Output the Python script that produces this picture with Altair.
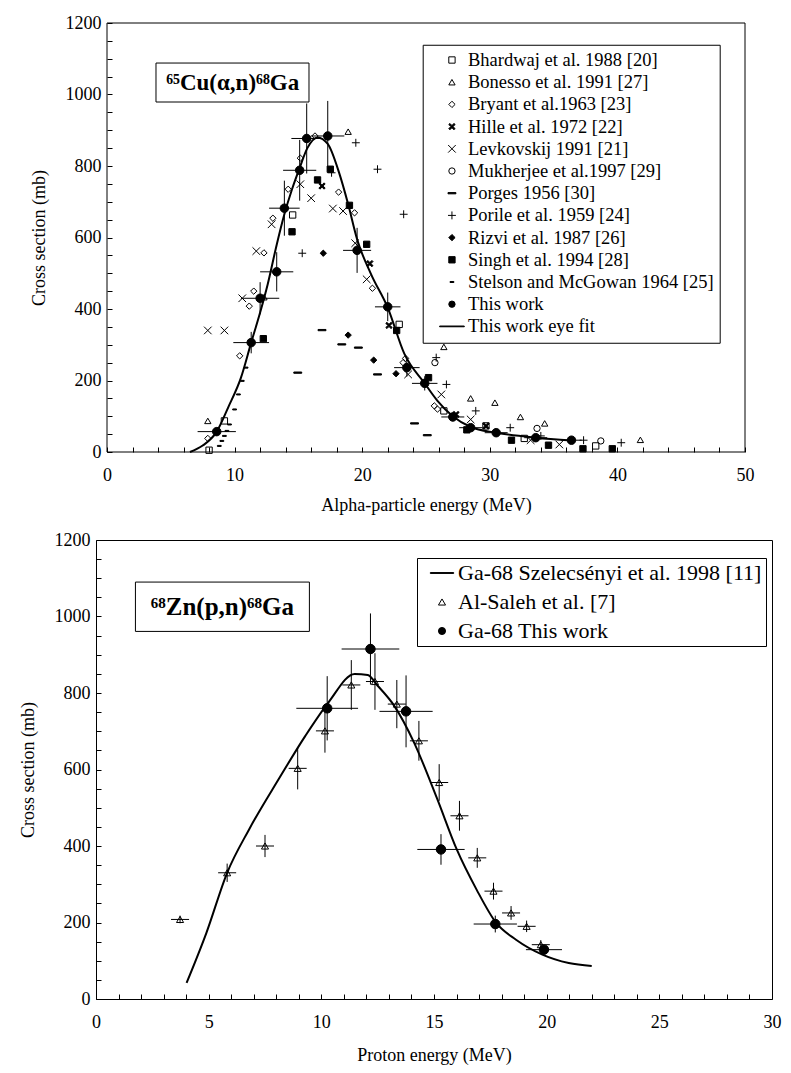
import altair as alt
import pandas as pd

FONT = "Liberation Serif"

# ===================== 65Cu(alpha,n)68Ga (top) =====================
bhardwaj_e = [8.0, 9.2, 14.55, 22.9, 26.4, 29.7, 32.7, 38.3]
bhardwaj_s = [5, 87, 663, 357, 115, 73, 38, 17]
bonesso_e = [7.9, 12.3, 18.9, 26.4, 28.5, 30.4, 32.4, 34.3, 41.8]
bonesso_s = [87, 433, 896, 294, 150, 138, 98, 80, 34]
bryant_e = [7.9, 10.4, 11.15, 11.5, 12.3, 13.0, 14.2, 15.15, 16.3, 18.15, 19.4, 20.8, 23.2, 23.4, 25.65, 25.9]
bryant_s = [38, 269, 408, 450, 557, 654, 735, 822, 884, 727, 669, 458, 250, 262, 129, 120]
hille_e = [16.85, 20.6, 22.1, 27.35, 29.7]
hille_s = [744, 527, 354, 105, 73]
levkovskij_e = [7.9, 9.2, 10.6, 11.7, 12.9, 15.15, 16.0, 17.7, 18.5, 19.45, 20.35, 23.6, 26.2, 28.5, 33.2, 35.45]
levkovskij_s = [340, 340, 430, 562, 637, 749, 710, 681, 674, 584, 483, 217, 161, 91, 33, 21]
mukherjee_e = [25.7, 33.7, 38.7]
mukherjee_s = [250, 66, 31]
porges_e = [14.95, 16.85, 18.4, 19.7, 21.2, 24.1, 25.1]
porges_s = [222, 341, 301, 292, 217, 80, 47]
porile_e = [15.3, 17.6, 19.5, 21.2, 23.25, 25.8, 26.6, 28.9, 31.6, 34.0, 37.35, 40.3]
porile_s = [556, 781, 865, 791, 665, 264, 189, 115, 68, 45, 33, 26]
rizvi_e = [16.95, 18.9, 20.9, 22.65]
rizvi_s = [556, 327, 257, 219]
singh_e = [12.25, 14.5, 16.5, 17.5, 19.0, 20.35, 22.7, 25.2, 28.2, 31.7, 34.6, 37.3, 39.6]
singh_s = [317, 616, 761, 791, 690, 581, 340, 208, 62, 33, 19, 9, 9]
stelson_e = [8.8, 9.0, 9.2, 9.4, 9.6, 10.0, 10.3, 10.6, 10.9]
stelson_s = [17, 31, 45, 59, 77, 119, 161, 199, 236]

tw_top_e = [8.6, 11.3, 12.0, 13.3, 13.9, 15.1, 15.65, 17.3, 19.6, 22.0, 23.5, 24.9, 27.1, 28.5, 30.5, 33.6, 36.4]
tw_top_s = [57, 306, 430, 504, 682, 788, 877, 884, 564, 406, 236, 192, 98, 68, 54, 40, 33]
tw_top_de = [1.5, 1.4, 1.5, 1.3, 1.2, 1.3, 1.2, 1.3, 1.1, 1.0, 1.0, 1.0, 0.9, 0.9, 0.9, 0.9, 0.8]
tw_top_ds = [12, 30, 45, 55, 77, 85, 98, 98, 63, 40, 25, 20, 12, 8, 6, 5, 4]

fit_top_e = [6.5, 7.5, 8.6, 9.5, 10.5, 11.3, 12.0, 12.6, 13.3, 13.9, 14.5, 15.1, 15.7, 16.5, 17.3,
             18.2, 18.9, 19.6, 20.7, 22.0, 23.3, 24.9, 25.9, 27.1, 28.5, 30.5, 33.6, 36.4]
fit_top_s = [0, 18, 57, 125, 208, 306, 390, 470, 580, 665, 735, 795, 850, 880, 862,
             780, 693, 595, 497, 404, 275, 192, 143, 100, 70, 54, 40, 32]

top_names = ["Bhardwaj et al. 1988 [20]", "Bonesso et al. 1991 [27]", "Bryant et al.1963 [23]",
             "Hille et al. 1972 [22]", "Levkovskij 1991 [21]", "Mukherjee et al.1997 [29]",
             "Porges 1956 [30]", "Porile et al. 1959 [24]", "Rizvi et al. 1987 [26]",
             "Singh et al. 1994 [28]", "Stelson and McGowan 1964 [25]", "This work",
             "This work eye fit"]

# ===================== 68Zn(p,n)68Ga (bottom) =====================
fit_bot_e = [4.02, 4.90, 5.82, 6.80, 8.11, 9.29, 10.31, 11.48, 12.06, 12.50, 13.23, 14.11,
             15.13, 16.01, 16.89, 17.76, 18.64, 19.81, 20.98, 22.00]
fit_bot_s = [42, 173, 330, 444, 575, 688, 775, 850, 847, 819, 767, 671,
             525, 391, 286, 199, 155, 116, 94, 86]

alsaleh_e = [3.73, 5.82, 7.50, 8.95, 10.16, 11.33, 12.38, 13.35, 14.33, 15.23, 16.13, 16.92,
             17.64, 18.42, 19.11, 19.74]
alsaleh_s = [208, 330, 400, 603, 701, 821, 830, 771, 675, 566, 479, 369, 282, 225, 190, 142]
alsaleh_de = [0.4] * 16
alsaleh_ds = [10, 24, 29, 55, 57, 65, 74, 63, 52, 48, 39, 26, 22, 18, 15, 12]

tw_bot_e = [10.26, 12.18, 13.76, 15.31, 17.72, 19.88]
tw_bot_s = [760, 915, 752, 391, 196, 129]
tw_bot_de = [1.37, 1.28, 1.18, 1.05, 0.96, 0.8]
tw_bot_ds = [84, 93, 94, 40, 22, 10]

bot_names = ["Ga-68 Szelecsényi et al. 1998 [11]", "Al-Saleh et al. [7]", "Ga-68 This work"]

# ---------------- symbol styles ----------------
HILLE_X = "M-1,-0.65L-0.65,-1L0,-0.35L0.65,-1L1,-0.65L0.35,0L1,0.65L0.65,1L0,0.35L-0.65,1L-1,0.65L-0.35,0Z"
top_shapes = ["square", "triangle-up", "diamond", HILLE_X, "M-1.2,-1.2L1.2,1.2M-1.2,1.2L1.2,-1.2",
              "circle", "M-1.25,-0.2H1.25V0.2H-1.25Z", "M-1.25,0H1.25M0,-1.25V1.25", "diamond",
              "square", "M-0.6,-0.16H0.6V0.16H-0.6Z", "circle", "M-3.9,-0.12H3.9V0.12H-3.9Z"]
top_fills = ["transparent", "transparent", "transparent", "black", "transparent", "transparent",
             "black", "transparent", "black", "black", "black", "black", "black"]
bot_shapes = ["M-3.3,-0.12H3.3V0.12H-3.3Z", "triangle-up", "circle"]
bot_fills = ["black", "transparent", "black"]


def points_frame(names, es_list, ss_list):
    rows = []
    for n, es, ss in zip(names, es_list, ss_list):
        for e, s in zip(es, ss):
            rows.append({"series": n, "e": e, "s": s})
    return pd.DataFrame(rows)


def err_frame(name, es, ss, des, dss):
    df = pd.DataFrame({"e": es, "s": ss, "de": des, "ds": dss})
    df["series"] = name
    df["elo"] = df["e"] - df["de"]
    df["ehi"] = df["e"] + df["de"]
    df["slo"] = df["s"] - df["ds"]
    df["shi"] = df["s"] + df["ds"]
    return df


top_pts = points_frame(top_names[:11],
                       [bhardwaj_e, bonesso_e, bryant_e, hille_e, levkovskij_e, mukherjee_e,
                        porges_e, porile_e, rizvi_e, singh_e, stelson_e],
                       [bhardwaj_s, bonesso_s, bryant_s, hille_s, levkovskij_s, mukherjee_s,
                        porges_s, porile_s, rizvi_s, singh_s, stelson_s])
top_tw = err_frame("This work", tw_top_e, tw_top_s, tw_top_de, tw_top_ds)
top_fit = pd.DataFrame({"e": fit_top_e, "s": fit_top_s})

bot_as = err_frame("Al-Saleh et al. [7]", alsaleh_e, alsaleh_s, alsaleh_de, alsaleh_ds)
bot_tw = err_frame("Ga-68 This work", tw_bot_e, tw_bot_s, tw_bot_de, tw_bot_ds)
bot_fit = pd.DataFrame({"e": fit_bot_e, "s": fit_bot_s})

one = pd.DataFrame({"k": [0]})

# ---------------- axes ----------------
SHIFT = 11  # the upper frame starts 11 px to the right of the lower one


def y_axis(offset):
    return alt.Axis(values=list(range(0, 1201, 50)), format="d", offset=offset,
                    labelExpr="datum.value % 200 === 0 ? datum.label : ''",
                    labelPadding=6, titlePadding=17)


x_axis_top = alt.Axis(values=list(range(0, 51, 2)), format="d", offset=-5,
                      labelExpr="datum.value % 10 === 0 ? datum.label : ''",
                      labelPadding=14, titlePadding=12)
x_axis_bot = alt.Axis(values=list(range(0, 31, 1)), format="d", offset=-5,
                      labelExpr="datum.value % 5 === 0 ? datum.label : ''",
                      labelPadding=14, titlePadding=15)

ys = alt.Scale(domain=[0, 1200], nice=False, zero=False)
TOP_W, TOP_H = 638, 429
BOT_W, BOT_H = 676, 459
xs_top = alt.Scale(domain=[0, 50], nice=False, zero=False, range=[SHIFT, SHIFT + TOP_W])
xs_bot = alt.Scale(domain=[0, 30], nice=False, zero=False)

YT = "Cross section (mb)"


def legend(lx, ly, pad, rowpad, fs, ssize, soff, loff):
    return alt.Legend(title=None, orient="none", legendX=lx, legendY=ly, direction="vertical",
                      fillColor="white", strokeColor="black", padding=pad, rowPadding=rowpad,
                      labelFont=FONT, labelFontSize=fs, labelColor="black", labelLimit=0,
                      symbolSize=ssize, symbolStrokeWidth=1,
                      symbolOffset=soff, labelOffset=loff, symbolOpacity=1)


def panel(xs, xaxis, yaxis, xtitle, xmax, names, shapes, fills, leg, width, height,
          box, label, label_pos, label_size, err_sets, fit_df, point_sets, frame, spacer_x):
    def X(f):
        return alt.X(f, type="quantitative", scale=xs, axis=xaxis, title=xtitle)

    def Y(f):
        return alt.Y(f, type="quantitative", scale=ys, axis=yaxis, title=YT)

    shape = alt.Shape("series:N", scale=alt.Scale(domain=names, range=shapes), legend=leg)
    fill = alt.Fill("series:N", scale=alt.Scale(domain=names, range=fills), legend=leg)
    stroke = alt.Stroke("series:N", scale=alt.Scale(domain=names, range=["black"] * len(names)),
                        legend=leg)

    layers = []
    if frame:
        layers.append(alt.Chart(one).mark_rect(fill="transparent", stroke="black", strokeWidth=1).encode(
            x=alt.XDatum(0, type="quantitative", scale=xs, axis=xaxis, title=xtitle),
            x2=alt.X2Datum(xmax),
            y=alt.YDatum(0, type="quantitative", scale=ys, axis=yaxis, title=YT),
            y2=alt.Y2Datum(1200)))
    layers.append(alt.Chart(one).mark_rect(fill="white", stroke="black", strokeWidth=1).encode(
        x=alt.XDatum(box[0], type="quantitative", scale=xs, axis=xaxis, title=xtitle),
        x2=alt.X2Datum(box[1]),
        y=alt.YDatum(box[2], type="quantitative", scale=ys, axis=yaxis, title=YT),
        y2=alt.Y2Datum(box[3])))
    for df in err_sets:
        layers.append(alt.Chart(df).mark_rule(color="black", strokeWidth=1).encode(
            x=X("elo"), x2="ehi", y=Y("s")))
        layers.append(alt.Chart(df).mark_rule(color="black", strokeWidth=1).encode(
            x=X("e"), y=Y("slo"), y2="shi"))
    layers.append(alt.Chart(fit_df).mark_line(color="black", strokeWidth=2,
                                              interpolate="monotone").encode(x=X("e"), y=Y("s")))
    for df, size in point_sets:
        layers.append(alt.Chart(df).mark_point(filled=True, strokeWidth=1, opacity=1, size=size).encode(
            x=X("e"), y=Y("s"), shape=shape, fill=fill, stroke=stroke))
    layers.append(alt.Chart(one).mark_text(font=FONT, fontSize=label_size, fontWeight="bold",
                                           color="black", align="center", baseline="middle").encode(
        x=alt.XDatum(label_pos[0], type="quantitative", scale=xs, axis=xaxis, title=xtitle),
        y=alt.YDatum(label_pos[1], type="quantitative", scale=ys, axis=yaxis, title=YT),
        text=alt.value(label)))
    if spacer_x is not None:
        layers.append(alt.Chart(one).mark_rect(color="white").encode(
            x=alt.value(spacer_x), x2=alt.value(spacer_x + 1), y=alt.value(200), y2=alt.value(201)))
    ch = alt.layer(*layers).properties(width=width, height=height)
    if frame:
        ch = ch.properties(view=alt.ViewBackground(stroke="transparent"))
    return ch


top = panel(xs_top, x_axis_top, y_axis(-5 - SHIFT), "Alpha-particle energy (MeV)", 50,
            top_names, top_shapes, top_fills,
            legend(315.7 + SHIFT, 21.75, 6, 3.2, 18.5, 40, 14, 6.8), TOP_W + SHIFT, TOP_H,
            (3.84, 15.83, 979, 1088), "⁶⁵Cu(α,n)⁶⁸Ga", (9.85, 1031), 23,
            [top_tw], top_fit, [(top_pts, 40), (top_tw, 72)], True, None)

bottom = panel(xs_bot, x_axis_bot, y_axis(-5), "Proton energy (MeV)", 30,
               bot_names, bot_shapes, bot_fills,
               legend(321, 18, 4, 7, 22, 50, 10, 5), BOT_W, BOT_H,
               (1.75, 9.47, 961, 1090), "⁶⁸Zn(p,n)⁶⁸Ga", (5.61, 1024), 25,
               [bot_as, bot_tw], bot_fit, [(bot_as, 50), (bot_tw, 90)], False, -86)

chart = alt.vconcat(top, bottom, spacing=15).resolve_scale(
    x="independent", y="independent", shape="independent", fill="independent",
    stroke="independent"
).properties(
    padding={"left": 1, "top": 5, "right": 0, "bottom": 0}, background="white"
).configure_view(stroke="black", strokeWidth=1).configure_axis(
    tickSize=5, tickColor="black", tickWidth=1, domain=False, grid=False,
    labelFont=FONT, labelFontSize=18, labelColor="black", labelOverlap=False, labelFlush=False,
    titleFont=FONT, titleFontSize=18, titleFontWeight="normal", titleColor="black"
).configure_legend(labelFont=FONT, labelOverlap=False)

chart.save("out.html", embed_options={"renderer": "svg", "actions": False})
